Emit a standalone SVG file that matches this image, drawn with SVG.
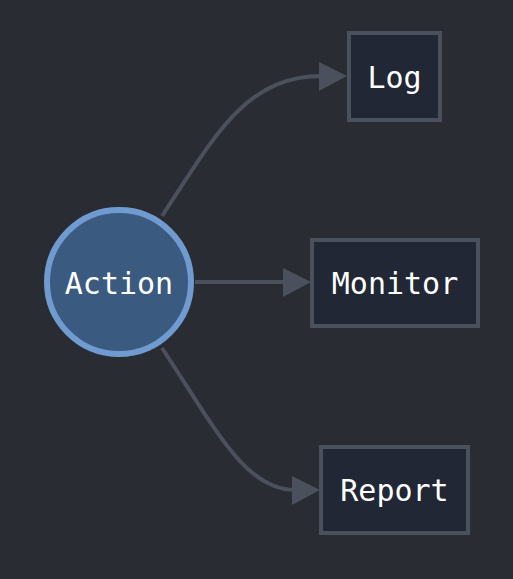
<svg xmlns="http://www.w3.org/2000/svg" width="513" height="579" viewBox="0 0 513 579">
<defs>
<style>
.edge{fill:none;stroke:#4a505c;stroke-width:4}
.head{fill:#4a505c}
.box{fill:#212734;stroke:#4a505c;stroke-width:4}
.lbl{font-family:"DejaVu Sans Mono",monospace;font-size:30px;fill:#ffffff;text-anchor:middle;dominant-baseline:central}
</style>
</defs>
<rect width="513" height="579" fill="#2a2c33"/>
<g id="edges">
<path class="edge" d="M162,216 C215,136 245,76 322,76"/>
<polygon class="head" points="319,62 347,76 319,91"/>
<path class="edge" d="M195,282 L286,282"/>
<polygon class="head" points="283,268 311,282 283,297"/>
<path class="edge" d="M162,348 C215,428 245,490 295,490"/>
<polygon class="head" points="292,476 320,490 292,505"/>
</g>
<g id="action">
<circle cx="119" cy="282" r="72" fill="#3a5a80" stroke="#6f9bd1" stroke-width="6"/>
<text class="lbl" x="119" y="283">Action</text>
</g>
<g id="log">
<rect class="box" x="349" y="33" width="91" height="87"/>
<text class="lbl" x="394.5" y="77">Log</text>
</g>
<g id="monitor">
<rect class="box" x="312" y="240" width="166" height="86"/>
<text class="lbl" x="395" y="283">Monitor</text>
</g>
<g id="report">
<rect class="box" x="321" y="447" width="147" height="86"/>
<text class="lbl" x="394.5" y="490">Report</text>
</g>
</svg>
